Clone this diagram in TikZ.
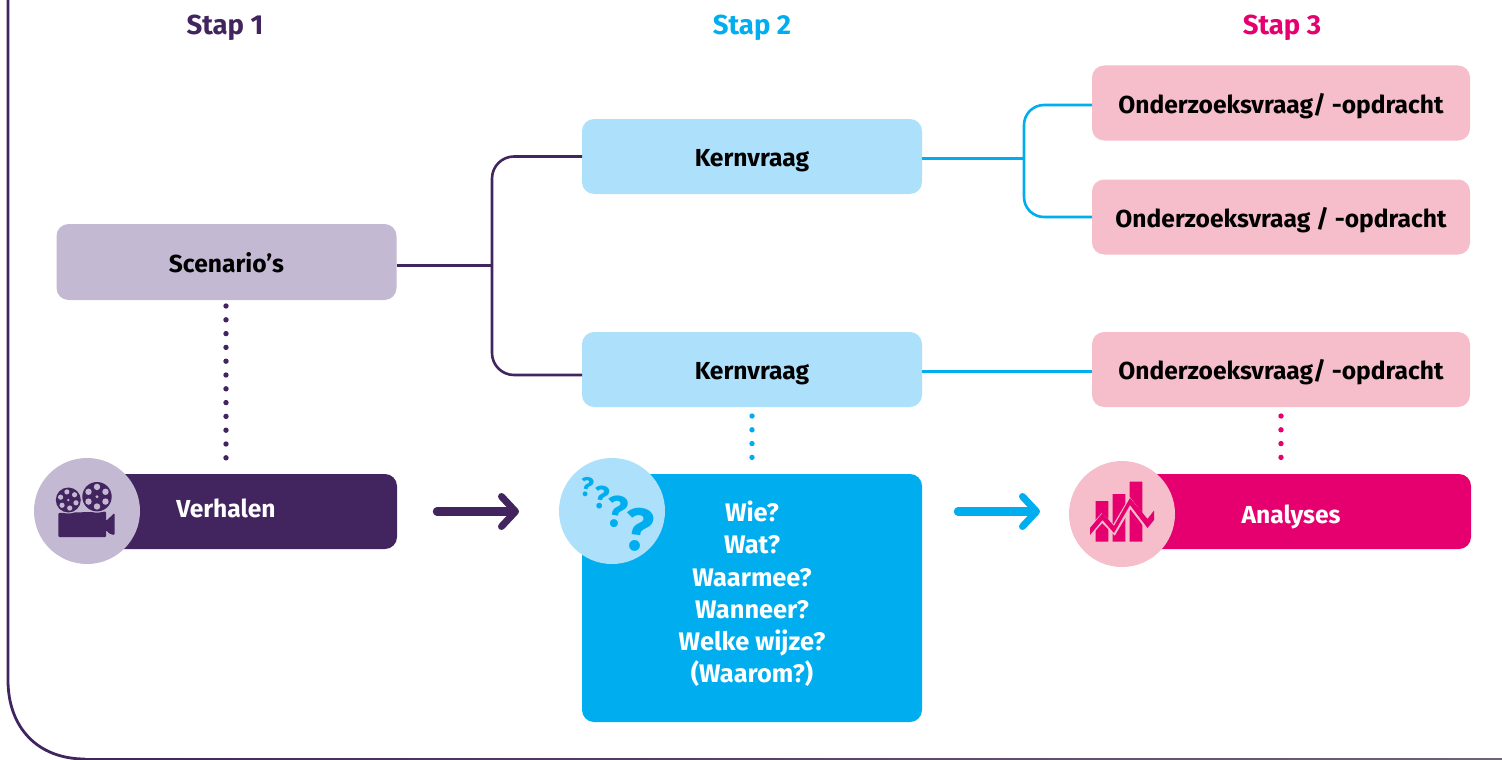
\documentclass[tikz,border=0pt]{standalone}
\usepackage{fontspec}
\setmainfont{Fira Sans}
\usetikzlibrary{arrows.meta,calc}
\definecolor{vio}{HTML}{42245F}
\definecolor{violt}{HTML}{C4B9D2}
\definecolor{cy}{HTML}{00AEEF}
\definecolor{cylt}{HTML}{ADE0FB}
\definecolor{mag}{HTML}{E6006F}
\definecolor{maglt}{HTML}{F6BDCB}
\tikzset{
 x=1pt,y=-1pt,
 txt/.style={font=\fontsize{24.6}{32}\selectfont\bfseries,align=center,inner sep=0pt,outer sep=0pt},
 boxnode/.style={txt,rounded corners=12pt,minimum height=75pt,text=black,text height=22pt,text depth=2pt},
 kern/.style={boxnode,fill=cylt,minimum width=340pt},
 onder/.style={boxnode,fill=maglt,minimum width=378pt},
 heading/.style={font=\fontsize{27.5}{30}\selectfont\bfseries,inner sep=0pt},
 link/.style={line width=2.6pt,rounded corners=22pt},
 dots/.style={line width=5.4pt,line cap=round,dash pattern=on 0pt off 13.8pt},
 bigarrow/.style={line width=8.5pt,line cap=round,-{Straight Barb[length=14pt,width=30pt,line width=7pt,round]}},
 disc/.style={circle,minimum size=106pt,inner sep=0pt,outer sep=0pt},
 qm/.style={inner sep=0pt,text=cy,font=\bfseries},
}
\begin{document}
\begin{tikzpicture}
\useasboundingbox (0,0) rectangle (1502,760);
% frame
\draw[vio,line width=2.8pt,line cap=round] (8,0) -- (8,680) .. controls (8,728) and (38,759) .. (85,759);
\shade[left color=vio,right color=gray!70!vio] (85,758) rectangle (1502,760);
% headings
\node[heading,text=vio] (s1) at (225,28) {Stap 1};
\node[heading,text=cy] (s2) at (752,28) {Stap 2};
\node[heading,text=mag] (s3) at (1282,28) {Stap 3};
% boxes
\node[boxnode,fill=violt,minimum width=340pt,minimum height=76pt] (scen) at (226.5,262) {Scenario’s};
\node[kern] (k1) at (752,156.5) {Kernvraag};
\node[kern] (k2) at (752,369.5) {Kernvraag};
\node[onder] (o1) at (1281,103) {Onderzoeksvraag/ -opdracht};
\node[onder] (o2) at (1281,217) {Onderzoeksvraag / -opdracht};
\node[onder] (o3) at (1281,369.5) {Onderzoeksvraag/ -opdracht};
\node[boxnode,fill=vio,minimum width=300pt] (verh) at (247,511.5) {};
\node[txt,text=white,text height=22pt,text depth=2pt] (verht) at (226,507) {Verhalen};
\node[boxnode,fill=cy,minimum width=340pt,minimum height=248pt] (wie) at (752,598) {};
\node[txt,text=white,font=\fontsize{25.4}{32.2}\selectfont\bfseries] (wiet) at (752,594) {Wie?\\Wat?\\Waarmee?\\Wanneer?\\Welke wijze?\\(Waarom?)};
\node[boxnode,fill=mag,minimum width=340pt] (ana) at (1301,511.5) {};
\node[txt,text=white,text height=22pt,text depth=2pt] (anat) at (1291,513) {Analyses};
% connectors
\coordinate (j1) at (492,265.5);
\draw[link,vio] (k1.west) -- (492,156.5) -- (492,375) -- ($(k2.west)+(0,5.5)$);
\draw[vio,line width=2.6pt] (scen.east) ++(0,3.5) -- (j1);
\coordinate (j2) at (1024,158.5);
\draw[link,cy,rounded corners=20pt] (o1.west) ++(0,2) -- (1024,105) -- (1024,217) -- (o2.west);
\draw[cy,line width=2.2pt] (k1.east) ++(0,2) -- (j2);
\draw[cy,line width=2.2pt] (k2.east) ++(0,2) -- ($(o3.west)+(0,2)$);
\draw[dots,vio] (226,306) -- (226,470);
\draw[dots,cy] (752,416) -- (752,467);
\draw[dots,mag] (1281,416) -- (1281,467);
\coordinate (a1) at (437,511.5); \coordinate (a2) at (519,511.5);
\draw[bigarrow,vio] (a1) -- (a2);
\coordinate (a3) at (958,511.5); \coordinate (a4) at (1040,511.5);
\draw[bigarrow,cy] (a3) -- (a4);
% discs
\node[disc,fill=violt] (d1) at (87,511) {};
\node[disc,fill=cylt] (d2) at (612,511) {};
\node[disc,fill=maglt] (d3) at (1122,514) {};
% camera icon
\fill[vio,rounded corners=1pt] (58.3,513) -- (106,511.5) -- (106,521) -- (114.5,513) -- (114.5,535) -- (110,534) -- (106,530) -- (106,537) -- (58.3,537) -- cycle;
\fill[violt] (68.3,500) circle (13.5) (97,496.7) circle (16);
\fill[vio] (68.3,500) circle (12.5) (97,496.7) circle (14.7);
\foreach \a in {0,60,...,300} \fill[violt] ($(68.3,500)+(\a+20:8.2)$) circle (2.6);
\foreach \a in {0,60,...,300} \fill[violt] ($(97,496.7)+(\a+30:9.8)$) circle (3.2);
\fill[violt] (68.3,500) circle (1.3) (97,496.7) circle (1.7);
% question marks
\node[qm,font=\fontsize{27}{27}\selectfont\bfseries,rotate=-8] (q1) at (587,487) {?};
\node[qm,font=\fontsize{32}{32}\selectfont\bfseries,rotate=-8] (q2) at (602,498) {?};
\node[qm,font=\fontsize{44}{44}\selectfont\bfseries,rotate=-8] (q3) at (617,512) {?};
\node[qm,font=\fontsize{60}{60}\selectfont\bfseries,rotate=-8] (q4) at (639,530) {?};
% chart icon
\fill[mag] (1095.7,501) rectangle (1108.3,541.7) (1112.7,494) rectangle (1125.3,541.7) (1129.7,481.7) rectangle (1142.3,541.7);
\draw[maglt,line width=7pt,line join=miter] (1088,534) -- (1102,518) -- (1114,530) -- (1130,503) -- (1147,525) -- (1157,514);
\fill[mag] (1090,528) -- (1102.5,513) -- (1114,526) -- (1130,498) -- (1147.5,519) -- (1154,510.5) -- (1154,520) -- (1147.5,528) -- (1130,505) -- (1114,533) -- (1102.5,520) -- (1090,535) -- cycle;
\end{tikzpicture}
\end{document}
